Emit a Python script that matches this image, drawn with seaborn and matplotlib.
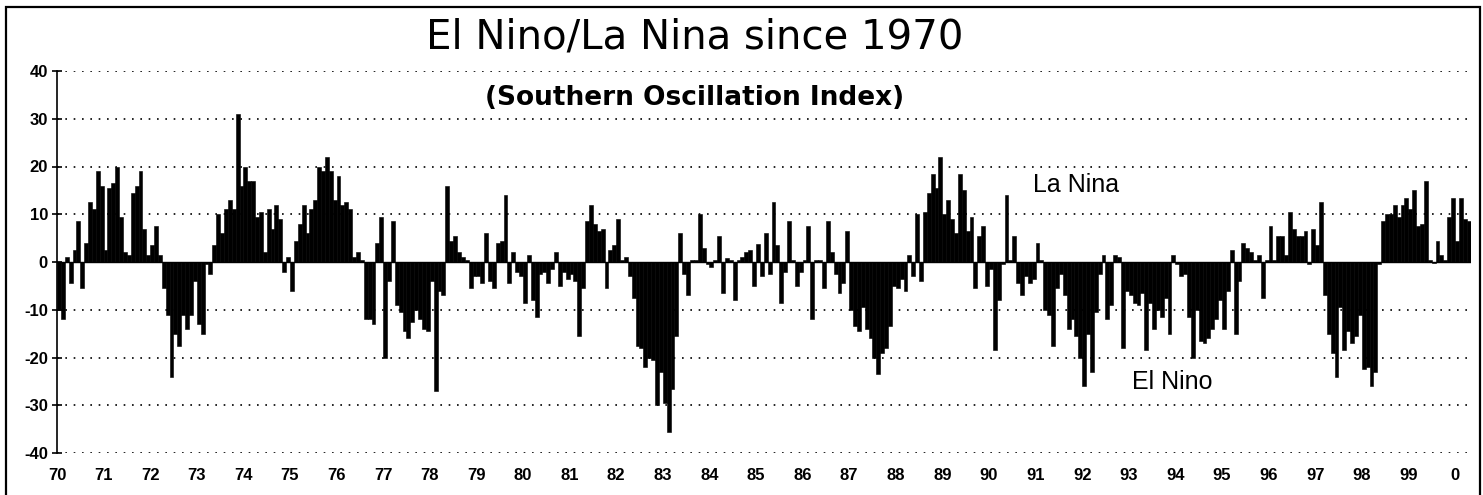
import numpy as np
import pandas as pd
import matplotlib
matplotlib.use("Agg")
import matplotlib.pyplot as plt
import seaborn as sns
from matplotlib.patches import Rectangle

#
# monthly Southern Oscillation Index (Jan 1970 .. Apr 2000)
#
soi_1970 = [-10, -12, 1, -4.5, 2.5, 8.5, -5.5, 4, 12.5, 11, 19, 16]
soi_1971 = [2.5, 15.5, 16.5, 20, 9.5, 2, 1.5, 14.5, 16, 19, 7, 1.5]
soi_1972 = [3.5, 7.5, 1.5, -5.5, -11, -24, -15, -17.5, -11, -14, -11, -4]
soi_1973 = [-13, -15, -0.5, -2.5, 3.5, 10, 6, 11, 13, 11, 31, 16]
soi_1974 = [20, 17, 17, 9.5, 10.5, 2, 11, 7, 12, 9, -2, 1]
soi_1975 = [-6, 4.5, 8, 12, 6, 11, 13, 20, 19, 22, 19, 13]
soi_1976 = [18, 12, 12.5, 11, 1, 2, 0.5, -12, -12, -13, 4, 9.5]
soi_1977 = [-20, -4, 8.5, -9, -10.5, -14.5, -16, -12.5, -10, -12, -14, -14.5]
soi_1978 = [-4, -27, -6, -7, 16, 4.5, 5.5, 2, 1, 0.5, -5.5, -3]
soi_1979 = [-3, -4.5, 6, -4, -5.5, 4, 4.5, 14, -4.5, 2, -2, -3]
soi_1980 = [-8.5, 1.5, -8, -11.5, -2.5, -2, -4.5, -1.5, 2, -5, -2, -3.5]
soi_1981 = [-2.5, -4, -15.5, -5.5, 8.5, 12, 8, 6.5, 7, -5.5, 2.5, 3.5]
soi_1982 = [9, 0.5, 1, -3, -7.5, -17.5, -18, -22, -20, -20.5, -30, -23]
soi_1983 = [-29.5, -35.5, -26.5, -15.5, 6, -2.5, -7, 0.5, 0.5, 10, 3, -0.5]
soi_1984 = [-1, 0.5, 5.5, -6.5, 0.8, 0.5, -8, 0.5, 1, 2, 2.5, -5]
soi_1985 = [3.8, -3, 6, -2.5, 12.5, 3.5, -8.5, -2, 8.5, 0.5, -5, -2]
soi_1986 = [0.5, 7.5, -12, 0.5, 0.5, -5.5, 8.5, 2, -2.5, -6.5, -4.5, 6.5]
soi_1987 = [-10, -13.5, -14.5, -9.5, -14, -16, -20, -23.5, -19, -18, -13.5, -5]
soi_1988 = [-5.5, -3.5, -6, 1.5, -3, 10, -4, 10.5, 14.5, 18.5, 15.5, 22]
soi_1989 = [10, 13, 9, 6, 18.5, 15, 6.5, 9.5, -5.5, 5.5, 7.5, -5]
soi_1990 = [-1.5, -18.5, -8, -0.5, 14, 0.5, 5.5, -4.5, -7, -3, -4.5, -3.5]
soi_1991 = [4, 0.5, -10, -11, -17.5, -5.5, -2.5, -7, -14, -12, -15.5, -20]
soi_1992 = [-26, -15, -23, -10.5, -2.5, 1.5, -12, -9, 1.5, 1, -18, -6]
soi_1993 = [-7, -8.5, -9, -6.5, -18.5, -8.5, -14, -10, -11.5, -7.5, -15, 1.5]
soi_1994 = [-0.5, -3, -2.5, -11.5, -20, -10, -16.5, -17, -16, -14, -12, -8]
soi_1995 = [-14, -6, 2.5, -15, -4, 4, 3, 2, 0.5, 1.5, -7.5, 0.5]
soi_1996 = [7.5, 0.5, 5.5, 5.5, 1.5, 10.5, 7, 5.5, 5.5, 6.5, -0.5, 7]
soi_1997 = [3.5, 12.5, -7, -15, -19, -24, -9.5, -18.5, -14.5, -17, -15.5, -11]
soi_1998 = [-22.5, -22, -26, -23, -0.5, 8.5, 10, 10, 12, 9.5, 12, 13.5]
soi_1999 = [11, 15, 7.5, 8, 17, 0.5, -0.3, 4.5, 1.5, 0.5, 9.5, 13.5]
soi_2000 = [4.5, 13.5, 9, 8.5]

year_labels = [str(y % 100) for y in range(1970, 2001)]  # '70' .. '99', '0'
y_ticks = [-40, -30, -20, -10, 0, 10, 20, 30, 40]

title_text = "El Nino/La Nina since 1970"
subtitle_text = "(Southern Oscillation Index)"

#
# build one long monthly series
#
all_years = [soi_1970, soi_1971, soi_1972, soi_1973, soi_1974, soi_1975, soi_1976,
             soi_1977, soi_1978, soi_1979, soi_1980, soi_1981, soi_1982, soi_1983,
             soi_1984, soi_1985, soi_1986, soi_1987, soi_1988, soi_1989, soi_1990,
             soi_1991, soi_1992, soi_1993, soi_1994, soi_1995, soi_1996, soi_1997,
             soi_1998, soi_1999, soi_2000]
values = np.concatenate([np.array(v, dtype=float) for v in all_years])
df = pd.DataFrame({"month": np.arange(len(values)), "soi": values})

plt.rcParams["axes.unicode_minus"] = False

W, H = 1483, 495
fig = plt.figure(figsize=(W / 100, H / 100), dpi=100)
fig.patch.set_facecolor("white")

# plot area in pixels: left 57, right ~1470, top (40) 71, bottom (-40) 453
ax = fig.add_axes([57 / W, 1 - 453 / H, 1413.5 / W, 382 / H])

sns.barplot(data=df, x="month", y="soi", color="black", saturation=1,
            width=1.0, errorbar=None, edgecolor="black", linewidth=0.4, ax=ax)

ax.set_xlim(-0.5, len(values) - 0.5)
ax.set_ylim(-40, 40)

# dotted grid, solid zero line
for v in y_ticks:
  if v == 0:
    continue
  ax.axhline(v, color="black", lw=1.2, ls=(0, (1, 4)), zorder=0)
ax.axhline(0, color="black", lw=1.0, zorder=3)

ax.set_xticks([12 * k - 0.5 for k in range(len(year_labels))])
ax.set_xticklabels(year_labels)
ax.set_yticks(y_ticks)
ax.set_yticklabels([str(v) for v in y_ticks])
ax.tick_params(axis="x", length=0, pad=11)
ax.tick_params(axis="y", direction="inout", length=7, width=1.2, pad=3)
for lbl in ax.get_xticklabels() + ax.get_yticklabels():
  lbl.set_fontfamily("Liberation Sans")
  lbl.set_fontweight("bold")
  lbl.set_fontsize(12)

for side in ["top", "right", "bottom"]:
  ax.spines[side].set_visible(False)
ax.spines["left"].set_linewidth(1.2)
ax.set_xlabel("")
ax.set_ylabel("")

# titles
fig.text(695 / W, 1 - 49 / H, title_text, ha="center", va="baseline",
         fontsize=29, family="DejaVu Sans")
fig.text(695 / W, 1 - 105 / H, subtitle_text, ha="center", va="baseline",
         fontsize=19, fontweight="bold", family="DejaVu Sans")

# annotations
ax.text(262, 14.7, "La Nina", ha="center", va="baseline", fontsize=18, family="Liberation Sans")
ax.text(286.6, -26.6, "El Nino", ha="center", va="baseline", fontsize=18, family="Liberation Sans")

# outer frame
fig.add_artist(Rectangle((6 / W, -0.02), (1480 - 6) / W, 1 - 7 / H + 0.02,
                         transform=fig.transFigure, fill=False, lw=1.6, ec="black"))

fig.savefig("out.png", dpi=100)
